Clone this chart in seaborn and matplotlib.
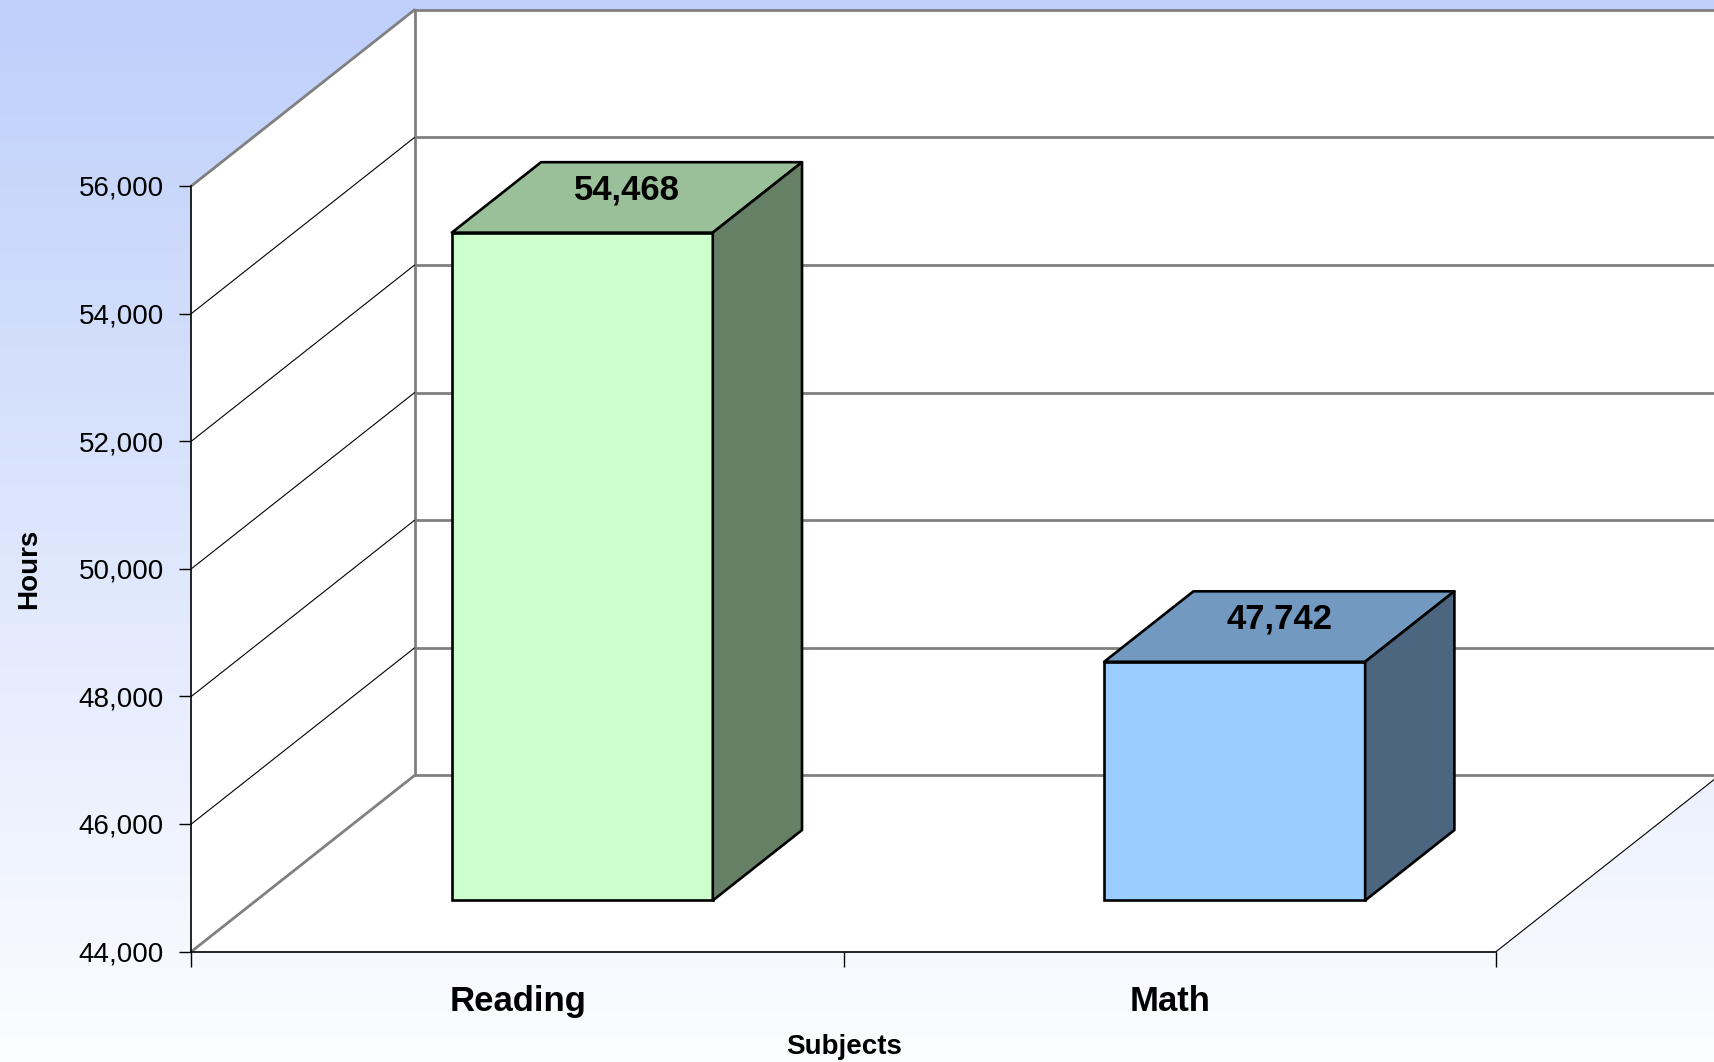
import numpy as np
import pandas as pd
import matplotlib
matplotlib.use("Agg")
import matplotlib.pyplot as plt
from matplotlib.patches import Polygon, Rectangle
import seaborn as sns

# data
subjects = ["Reading", "Math"]
hours = [54468, 47742]
front_colors = ["#CCFFCC", "#99CCFF"]
top_colors = ["#99C099", "#7299C0"]
side_colors = ["#668066", "#4D6680"]
y_ticks = [44000, 46000, 48000, 50000, 52000, 54000, 56000]

BASE = 44000
TOP = 56000
# fake 3d geometry: full depth offset in (category units, value units)
DX, DY = 0.342, 2760
D0, D1 = 0.29, 0.69      # front / back of the bars as a fraction of depth
BAR_W = 0.4
EDGE_LW = 1.9

df = pd.DataFrame({"Subject": subjects, "Hours": hours})
df["Height"] = df["Hours"] - BASE

sns.set_style("white")
plt.rcParams["font.family"] = ["Liberation Sans", "DejaVu Sans"]
plt.rcParams["text.color"] = "black"
plt.rcParams["axes.labelcolor"] = "black"
plt.rcParams["xtick.color"] = "black"
plt.rcParams["ytick.color"] = "black"

fig = plt.figure(figsize=(17.15, 10.62), dpi=100)

# background gradient
bg = fig.add_axes([0, 0, 1, 1], zorder=-5)
top_c = np.array([190, 207, 250]) / 255
bot_c = np.array([252, 253, 255]) / 255
t = np.linspace(0, 1, 256)[:, None]
grad = top_c * (1 - t) + bot_c * t
bg.imshow(grad[:, None, :].repeat(2, axis=1), aspect="auto", extent=[0, 1, 0, 1])
bg.axis("off")

ax = fig.add_axes([0.1116, 0.1040, 0.7608, 0.7209])
ax.patch.set_visible(False)

sns.barplot(data=df, x="Subject", y="Height", hue="Subject", palette=front_colors,
            saturation=1, width=BAR_W, edgecolor="black", linewidth=EDGE_LW,
            legend=False, ax=ax, zorder=4)

# walls
wall_kw = dict(facecolor="white", edgecolor="none", zorder=0.5, clip_on=False)
ax.add_patch(Polygon([(-0.5 + DX, BASE + DY), (1.5 + DX, BASE + DY),
                      (1.5 + DX, TOP + DY), (-0.5 + DX, TOP + DY)], **wall_kw))
ax.add_patch(Polygon([(-0.5, BASE), (-0.5 + DX, BASE + DY),
                      (-0.5 + DX, TOP + DY), (-0.5, TOP)], **wall_kw))
ax.add_patch(Polygon([(-0.5, BASE), (1.5, BASE),
                      (1.5 + DX, BASE + DY), (-0.5 + DX, BASE + DY)], **wall_kw))

grey = "#808080"
for v in y_ticks:
    ax.plot([-0.5 + DX, 1.5 + DX], [v + DY, v + DY], color=grey, lw=2,
            zorder=1, clip_on=False, solid_capstyle="butt")
    edge = v in (BASE, TOP)
    ax.plot([-0.5, -0.5 + DX], [v, v + DY], color=grey if edge else "black",
            lw=2 if edge else 0.8, zorder=1.2, clip_on=False)
ax.plot([-0.5 + DX, -0.5 + DX], [BASE + DY, TOP + DY], color=grey, lw=2,
        zorder=1.1, clip_on=False)
ax.plot([1.5, 1.5 + DX], [BASE, BASE + DY], color="black", lw=0.8,
        zorder=1.2, clip_on=False)

# shift the front faces back and add top / side faces
dd = D1 - D0
for p in list(ax.patches):
    if not isinstance(p, Rectangle):
        continue
    i = int(round(p.get_x() + p.get_width() / 2))
    if i not in (0, 1):
        continue
    val = hours[i]
    x0 = p.get_x() + D0 * DX
    x1 = x0 + p.get_width()
    yb = BASE + D0 * DY
    yt = val + D0 * DY
    p.set_x(x0)
    p.set_y(yb)
    p.set_height(val - BASE)
    p.set_clip_on(False)
    ax.add_patch(Polygon([(x0, yt), (x1, yt), (x1 + dd * DX, yt + dd * DY),
                          (x0 + dd * DX, yt + dd * DY)], facecolor=top_colors[i],
                         edgecolor="black", lw=EDGE_LW, zorder=4, clip_on=False,
                         joinstyle="round"))
    ax.add_patch(Polygon([(x1, yb), (x1 + dd * DX, yb + dd * DY),
                          (x1 + dd * DX, yt + dd * DY), (x1, yt)],
                         facecolor=side_colors[i], edgecolor="black", lw=EDGE_LW,
                         zorder=4, clip_on=False, joinstyle="round"))
    ax.text(i + (D0 + dd / 2) * DX, val + (D0 + dd / 2) * DY + 120, f"{val:,}",
            ha="center", va="center", fontsize=25, fontweight="bold", zorder=6)

ax.set_xlim(-0.5, 1.5)
ax.set_ylim(BASE, TOP)
ax.set_yticks(y_ticks)
ax.set_yticklabels([f"{v:,}" for v in y_ticks], fontsize=20)
ax.tick_params(axis="y", direction="out", length=9, width=1, color="black",
               pad=11, left=True)

ax.set_xticks([-0.5, 0.5, 1.5])
ax.set_xticklabels([])
ax.set_xticks([0, 1], minor=True)
ax.set_xticklabels(subjects, minor=True, fontsize=25, fontweight="bold")
ax.tick_params(axis="x", which="major", direction="out", length=11, width=1,
               color="black", bottom=True)
ax.tick_params(axis="x", which="minor", length=0, pad=24)

sns.despine(ax=ax, top=True, right=True)
for s in ("left", "bottom"):
    ax.spines[s].set_color("black")
    ax.spines[s].set_linewidth(1.2)
    ax.spines[s].set_zorder(3)

ax.set_xlabel("Subjects", fontsize=20, fontweight="bold", va="center")
ax.xaxis.set_label_coords(0.5, -0.125)
ax.set_ylabel("Hours", fontsize=20, fontweight="bold", va="center")
ax.yaxis.set_label_coords(-0.124, 0.5)

fig.savefig("out.png", dpi=100)
